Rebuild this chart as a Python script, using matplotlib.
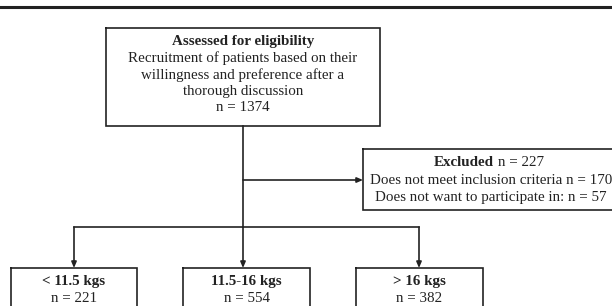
import matplotlib.pyplot as plt

# box texts
top_title = "Assessed for eligibility"
top_lines = ["Recruitment of patients based on their",
             "willingness and preference after a",
             "thorough discussion",
             "n = 1374"]
excl_title = "Excluded"
excl_n = "n = 227"
excl_lines = ["Does not meet inclusion criteria n = 170",
              "Does not want to participate in: n = 57"]
groups = ["< 11.5 kgs", "11.5-16 kgs", "> 16 kgs"]
group_n = [221, 554, 382]

plt.rcParams['font.family'] = ['Liberation Serif', 'DejaVu Serif']
fs = 10.8
col = "#222222"

fig = plt.figure(figsize=(6.12, 3.06), dpi=100)
ax = fig.add_axes([0, 0, 1, 1])
ax.set_xlim(0, 612)
ax.set_ylim(306, 0)
ax.axis("off")

def box(x0, y0, x1, y1):
    ax.plot([x0, x1, x1, x0, x0], [y0, y0, y1, y1, y0], color=col, lw=1.2,
            solid_joinstyle="miter", clip_on=True)

def arrow(x0, y0, x1, y1):
    ax.annotate("", xy=(x1, y1), xytext=(x0, y0),
                arrowprops=dict(arrowstyle="-|>,head_length=0.35,head_width=0.15",
                                color=col, lw=1.2, shrinkA=0, shrinkB=0))

# top rule
ax.plot([0, 612], [7, 7], color=col, lw=2.2)

# main box
box(106, 28, 380, 126)
ax.text(243, 42, top_title, ha="center", va="center", fontsize=fs,
        fontweight="bold", color=col)
for i, s in enumerate(top_lines):
    ax.text(243, 58.5 + i * 16.3, s, ha="center", va="center", fontsize=fs,
            color=col)

# trunk
ax.plot([243, 243], [126, 227], color=col, lw=1.2)

# excluded
arrow(243, 180, 363, 180)
box(363, 149, 640, 210)
ax.text(494, 162, excl_title, ha="right", va="center", fontsize=fs,
        fontweight="bold", color=col)
ax.text(498, 162, excl_n, ha="left", va="center", fontsize=fs, color=col)
for i, s in enumerate(excl_lines):
    ax.text(491, 180 + i * 17, s, ha="center", va="center", fontsize=fs,
            color=col)

# branches
cx = [74, 243, 419]
ax.plot([cx[0], cx[-1]], [227, 227], color=col, lw=1.2)
boxes = [(11, 137), (183, 310), (356, 483)]
for i, (x0, x1) in enumerate(boxes):
    arrow(cx[i], 227, cx[i], 268)
    box(x0, 268, x1, 330)
    mid = (x0 + x1) / 2
    ax.text(mid, 281, groups[i], ha="center", va="center", fontsize=fs,
            fontweight="bold", color=col)
    ax.text(mid, 299, "n = %d" % group_n[i], ha="center", va="center",
            fontsize=fs, color=col)

fig.savefig("out.png", dpi=100)
